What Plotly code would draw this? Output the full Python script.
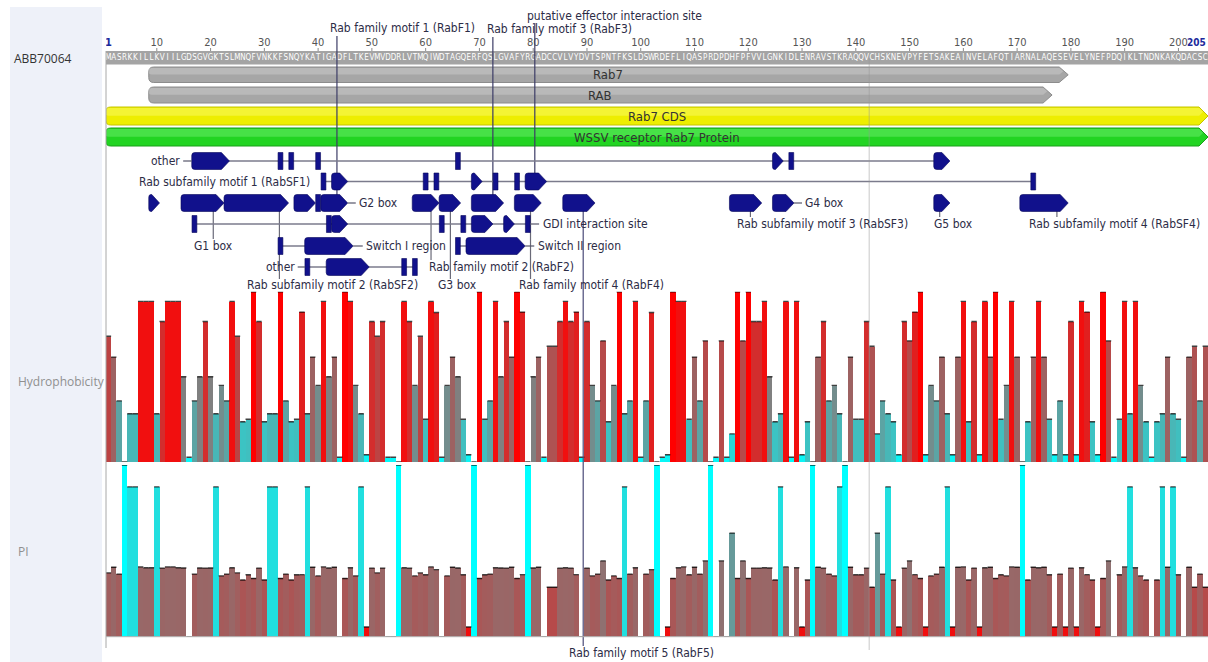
import plotly.graph_objects as go

# ---------------------------------------------------------------- data
ACCESSION = "ABB70064"
SEQUENCE = ("MASRKKILLKVIILGDSGVGKTSLMNQFVNKKFSNQYKATIGADFLTKEVMVDDRLVTMQ"
            "IWDTAGQERFQSLGVAFYRGADCCVLVYDVTSPNTFKSLDSWRDEFLIQASPRDPDHFPF"
            "VVLGNKIDLENRAVSTKRAQQVCHSKNEVPYFETSAKEAINVELAFQTIARNALAQESEV"
            "ELYNEFPDQIKLTNDNKAKQDACSC")
RESIDUES = list(range(1, len(SEQUENCE) + 1))

# per-residue hydrophobicity (0..1)
HYDROPHOBICITY = [
    0.738, 0.616, 0.359, 0.000, 0.283, 0.283, 0.943, 0.943, 0.943, 0.283,
    0.825, 0.943, 0.943, 0.943, 0.501, 0.028, 0.359, 0.501, 0.825, 0.501,
    0.283, 0.450, 0.359, 0.943, 0.738, 0.236, 0.251, 1.000, 0.825, 0.236,
    0.283, 0.283, 1.000, 0.359, 0.236, 0.251, 0.880, 0.283, 0.616, 0.450,
    0.943, 0.501, 0.616, 0.028, 1.000, 0.943, 0.450, 0.283, 0.043, 0.825,
    0.738, 0.825, 0.028, 0.028, 0.000, 0.943, 0.825, 0.450, 0.738, 0.251,
    0.943, 0.878, 0.028, 0.450, 0.616, 0.501, 0.251, 0.043, 0.000, 1.000,
    0.251, 0.359, 0.943, 0.501, 0.825, 0.616, 1.000, 0.880, 0.000, 0.501,
    0.616, 0.028, 0.680, 0.680, 0.825, 0.943, 0.825, 0.880, 0.028, 0.825,
    0.450, 0.359, 0.711, 0.236, 0.450, 1.000, 0.283, 0.359, 0.943, 0.028,
    0.359, 0.878, 0.000, 0.028, 0.043, 1.000, 0.943, 0.943, 0.251, 0.616,
    0.359, 0.711, 0.000, 0.028, 0.711, 0.028, 0.165, 1.000, 0.711, 1.000,
    0.825, 0.825, 0.943, 0.501, 0.236, 0.283, 0.943, 0.028, 0.943, 0.043,
    0.236, 0.000, 0.616, 0.825, 0.359, 0.450, 0.283, 0.000, 0.616, 0.251,
    0.251, 0.825, 0.680, 0.165, 0.359, 0.283, 0.236, 0.043, 0.825, 0.711,
    0.880, 1.000, 0.043, 0.450, 0.359, 0.616, 0.283, 0.043, 0.616, 0.943,
    0.236, 0.825, 0.043, 0.943, 0.616, 1.000, 0.251, 0.450, 0.943, 0.616,
    0.000, 0.236, 0.616, 0.943, 0.616, 0.251, 0.043, 0.359, 0.043, 0.825,
    0.043, 0.943, 0.880, 0.236, 0.043, 1.000, 0.711, 0.028, 0.251, 0.943,
    0.283, 0.943, 0.450, 0.236, 0.028, 0.236, 0.283, 0.616, 0.283, 0.251,
    0.028, 0.616, 0.680, 0.359, 0.680,
]

# per-residue isoelectric point
PI_VALUES = [
    5.74, 6.00, 5.68, 10.76, 9.74, 9.74, 6.02, 5.98, 5.98, 9.74,
    5.96, 6.02, 6.02, 5.98, 5.97, 2.77, 5.68, 5.97, 5.96, 5.97,
    9.74, 5.60, 5.68, 5.98, 5.74, 5.41, 5.65, 5.48, 5.96, 5.41,
    9.74, 9.74, 5.48, 5.68, 5.41, 5.65, 5.66, 9.74, 6.00, 5.60,
    6.02, 5.97, 6.00, 2.77, 5.48, 5.98, 5.60, 9.74, 3.22, 5.96,
    5.74, 5.96, 2.77, 2.77, 10.76, 5.98, 5.96, 5.60, 5.74, 5.65,
    6.02, 5.89, 2.77, 5.60, 6.00, 5.97, 5.65, 3.22, 10.76, 5.48,
    5.65, 5.68, 5.98, 5.97, 5.96, 6.00, 5.48, 5.66, 10.76, 5.97,
    6.00, 2.77, 5.07, 5.07, 5.96, 5.98, 5.96, 5.66, 2.77, 5.96,
    5.60, 5.68, 6.30, 5.41, 5.60, 5.48, 9.74, 5.68, 5.98, 2.77,
    5.68, 5.89, 10.76, 2.77, 3.22, 5.48, 5.98, 6.02, 5.65, 6.00,
    5.68, 6.30, 10.76, 2.77, 6.30, 2.77, 7.59, 5.48, 6.30, 5.48,
    5.96, 5.96, 5.98, 5.97, 5.41, 9.74, 6.02, 2.77, 5.98, 3.22,
    5.41, 10.76, 6.00, 5.96, 5.68, 5.60, 9.74, 10.76, 6.00, 5.65,
    5.65, 5.96, 5.07, 7.59, 5.68, 9.74, 5.41, 3.22, 5.96, 6.30,
    5.66, 5.48, 3.22, 5.60, 5.68, 6.00, 9.74, 3.22, 6.00, 6.02,
    5.41, 5.96, 3.22, 5.98, 6.00, 5.48, 5.65, 5.60, 6.02, 6.00,
    10.76, 5.41, 6.00, 5.98, 6.00, 5.65, 3.22, 5.68, 3.22, 5.96,
    3.22, 5.98, 5.66, 5.41, 3.22, 5.48, 6.30, 2.77, 5.65, 6.02,
    9.74, 5.98, 5.60, 5.41, 2.77, 5.41, 9.74, 6.00, 9.74, 5.65,
    2.77, 6.00, 5.07, 5.68, 5.07,
]

RULER_TICKS = [10, 20, 30, 40, 50, 60, 70, 80, 90, 100,
               110, 120, 130, 140, 150, 160, 170, 180, 190, 200]

# long annotations (start, end residue)
RAB7_DOMAIN = (9, 179)
RAB_DOMAIN = (9, 176)
CDS_SPAN = (1, 205)
PROTEIN_SPAN = (1, 205)

# feature intervals (start, end residue) per annotation track
OTHER_SITES_A = [(17, 23), (33, 33), (35, 35), (40, 40), (66, 66),
                 (125, 126), (128, 128), (155, 157)]
EFFECTOR_SITES = [(41, 41), (43, 45), (60, 60), (62, 62), (69, 70),
                  (73, 73), (77, 77), (79, 82), (173, 173)]
MOTIF_BOXES = [(9, 10), (15, 22), (23, 34), (36, 39), (40, 40), (41, 45),
               (58, 62), (63, 66), (69, 74), (77, 81), (86, 91),
               (117, 122), (125, 128), (155, 157), (171, 179)]
GDI_SITES = [(17, 17), (42, 42), (43, 45), (63, 63), (67, 67),
             (69, 72), (75, 76), (79, 79)]
SWITCH_I = [(33, 33), (38, 46)]
SWITCH_II = [(66, 66), (68, 78)]
OTHER_SITES_F = [(38, 38), (42, 49), (56, 56), (58, 58)]

# ---------------------------------------------------------------- layout constants
W, H = 1208, 662
PLOT_LEFT = 106
X_MIN, X_MAX = 0.55, 205.5
UPP = (X_MAX - X_MIN) / (W - PLOT_LEFT)   # residues per pixel

FONT = "Liberation Sans Narrow, DejaVu Sans Condensed, Arial Narrow, sans-serif"
LABEL_SIZE = 12
LABEL_COLOR = "#2c2c46"
GLYPH_FILL = "#11118c"
GLYPH_EDGE = "#06065a"
ROW_LINE = "#7b7b8c"

HYD_TOP, HYD_BOTTOM = 291.7, 462.0
PI_TOP, PI_BOTTOM = 465.0, 636.7

ROW_Y = {"A": 161, "B": 181.5, "C": 203, "D": 224, "E": 246, "F": 267}
GLYPH_H = 17

fig = go.Figure()

# ---------------------------------------------------------------- graphs
HYDRO_SCALE = [[0, "#00ffff"], [0.5, "#808080"], [1, "#ff0000"]]
PI_SCALE = [[0, "#ff0000"], [0.5, "#808080"], [1, "#00ffff"]]
pi_lo, pi_hi = min(PI_VALUES), max(PI_VALUES)

fig.add_trace(go.Bar(
    x=RESIDUES, y=HYDROPHOBICITY, width=1, xaxis="x", yaxis="y2",
    marker=dict(color=HYDROPHOBICITY, colorscale=HYDRO_SCALE, cmin=0, cmax=1,
                line=dict(width=0)),
    hoverinfo="skip"))
fig.add_trace(go.Bar(
    x=RESIDUES, y=PI_VALUES, width=1, xaxis="x", yaxis="y3",
    marker=dict(color=PI_VALUES, colorscale=PI_SCALE, cmin=pi_lo, cmax=pi_hi,
                line=dict(width=0)),
    hoverinfo="skip"))


def caps(values):
    xs, ys = [], []
    for n, v in zip(RESIDUES, values):
        xs += [n - 0.5, n + 0.5, None]
        ys += [v, v, None]
    return xs, ys


for vals, ax in ((HYDROPHOBICITY, "y2"), (PI_VALUES, "y3")):
    cx, cy = caps(vals)
    fig.add_trace(go.Scatter(x=cx, y=cy, mode="lines", xaxis="x", yaxis=ax,
                             line=dict(color="rgba(0,0,0,0.75)", width=1.4),
                             hoverinfo="skip"))

# ---------------------------------------------------------------- ruler + sequence
fig.add_trace(go.Scatter(
    x=RULER_TICKS, y=[43] * len(RULER_TICKS), mode="text",
    text=[str(t) for t in RULER_TICKS], textposition="middle center",
    textfont=dict(family=FONT, size=11, color="#555555"),
    xaxis="x", yaxis="y", hoverinfo="skip", cliponaxis=True))
fig.add_trace(go.Scatter(
    x=[1], y=[43], mode="text", text=["<b>1</b>"], textposition="middle center",
    textfont=dict(family=FONT, size=11, color="#1c2a9c"),
    xaxis="x", yaxis="y", hoverinfo="skip", cliponaxis=True))
fig.add_trace(go.Scatter(
    x=RESIDUES, y=[58] * len(SEQUENCE), mode="text", text=list(SEQUENCE),
    textposition="middle center",
    textfont=dict(family=FONT, size=8, color="white"),
    xaxis="x", yaxis="y", hoverinfo="skip", cliponaxis=False))

shapes = []
annotations = []

# sequence length marker at the right end of the ruler
annotations.append(dict(x=1, y=1 - 43 / H, xref="paper", yref="paper",
                        text="<b>%d</b>" % len(SEQUENCE), showarrow=False,
                        xanchor="right", yanchor="middle",
                        font=dict(family=FONT, size=10, color="#1c2a9c")))

# left header panel
shapes.append(dict(type="rect", xref="paper", yref="paper", x0=10 / W, x1=102 / W,
                   y0=0, y1=1 - 7 / H, fillcolor="#eef1f9", line=dict(width=0),
                   layer="below"))
# sequence band
shapes.append(dict(type="rect", xref="x", yref="y", x0=X_MIN, x1=X_MAX, y0=51, y1=64.5,
                   fillcolor="#a4a4a4", line=dict(width=0), layer="below"))
for t in RULER_TICKS:
    shapes.append(dict(type="line", xref="x", yref="y", x0=t, x1=t, y0=48, y1=51,
                       line=dict(color="#8a8a8a", width=1), layer="below"))


def arrow_path(s, e, yc, h, tip_px=8, r_px=3):
    x0, x1 = s - 0.5, e + 0.5
    w = x1 - x0
    tip = min(tip_px * UPP, 0.72 * w)
    r = min(r_px * UPP, 0.2 * w)
    ry = min(r_px, h / 3)
    top, bot = yc - h / 2, yc + h / 2
    return (f"M{x0 + r},{top} L{x1 - tip},{top} L{x1},{yc} L{x1 - tip},{bot} "
            f"L{x0 + r},{bot} Q{x0},{bot} {x0},{bot - ry} L{x0},{top + ry} "
            f"Q{x0},{top} {x0 + r},{top} Z")


def bar_path(n, yc, h):
    x0, x1 = n - 0.45, n + 0.45
    top, bot = yc - h / 2, yc + h / 2
    return f"M{x0},{top} L{x1},{top} L{x1},{bot} L{x0},{bot} Z"


def add_band(span, y0, y1, fill, edge, shine, text, text_color="#333333"):
    s, e = span
    yc = (y0 + y1) / 2
    shapes.append(dict(type="path", xref="x", yref="y",
                       path=arrow_path(s, e, yc, y1 - y0, tip_px=9, r_px=5),
                       fillcolor=fill, line=dict(color=edge, width=1), layer="above"))
    # lighter upper half for a rounded look
    shapes.append(dict(type="path", xref="x", yref="y",
                       path=arrow_path(s, e - 0.9, y0 + (y1 - y0) * 0.27,
                                       (y1 - y0) * 0.42, tip_px=4, r_px=3),
                       fillcolor=shine, line=dict(width=0), layer="above"))
    annotations.append(dict(x=(s + e) / 2, y=yc, xref="x", yref="y", text=text,
                            showarrow=False, font=dict(family=FONT, size=13, color=text_color)))


add_band(RAB7_DOMAIN, 67, 82.5, "#a6a6a6", "#8c8c8c", "rgba(255,255,255,0.22)", "Rab7")
add_band(RAB_DOMAIN, 87, 103, "#a6a6a6", "#8c8c8c", "rgba(255,255,255,0.22)", "RAB")
add_band(CDS_SPAN, 107, 125, "#eeee00", "#c4c400", "rgba(255,255,150,0.35)", "Rab7 CDS")
add_band(PROTEIN_SPAN, 128, 146, "#22d422", "#18a018", "rgba(160,255,160,0.30)",
         "WSSV receptor Rab7 Protein")


def add_track(parts, row, joined):
    yc = ROW_Y[row]
    if joined:
        shapes.append(dict(type="line", xref="x", yref="y",
                           x0=parts[0][0], x1=parts[-1][1], y0=yc, y1=yc,
                           line=dict(color=ROW_LINE, width=1.5), layer="above"))
    for s, e in parts:
        path = bar_path(s, yc, GLYPH_H) if s == e else arrow_path(s, e, yc, GLYPH_H)
        shapes.append(dict(type="path", xref="x", yref="y", path=path,
                           fillcolor=GLYPH_FILL, line=dict(color=GLYPH_EDGE, width=0.6),
                           layer="above"))


# label connectors drawn first so glyphs sit on top
CONNECTORS = [  # (residue, y from, y to, colour)
    (43.5, 36, 203, "#3c3c66"), (72.5, 37, 203, "#3c3c66"), (80.3, 23, 182, "#3c3c66"),
    (20.5, 211, 239, "#6a6a78"), (32.8, 211, 279, "#6a6a78"), (61.0, 211, 260, "#6a6a78"),
    (64.6, 211, 279, "#6a6a78"), (79.5, 211, 279, "#6a6a78"), (89.3, 211, 646, "#4a4a78"),
    (120.4, 211, 217, "#6a6a78"), (155.6, 211, 217, "#6a6a78"), (177.4, 211, 217, "#6a6a78"),
]
for xr, ya, yb, col in CONNECTORS:
    shapes.append(dict(type="line", xref="x", yref="y", x0=xr, x1=xr, y0=ya, y1=yb,
                       line=dict(color=col, width=1.2), layer="above"))

add_track(OTHER_SITES_A, "A", True)
add_track(EFFECTOR_SITES, "B", True)
add_track(MOTIF_BOXES, "C", False)
add_track(GDI_SITES, "D", True)
add_track(SWITCH_I, "E", True)
add_track(SWITCH_II, "E", True)
add_track(OTHER_SITES_F, "F", True)

# feature labels: (text, residue anchor, y, anchor)
LABELS = [
    ("putative effector interaction site", 95.2, 16, "center"),
    ("Rab family motif 1 (RabF1)", 41.8, 28, "left"),
    ("Rab family motif 3 (RabF3)", 71.0, 29, "left"),
    ("other", 14.6, 161, "right"),
    ("Rab subfamily motif 1 (RabSF1)", 38.9, 181.5, "right"),
    ("G2 box", 47.3, 203, "left"),
    ("G4 box", 130.2, 203, "left"),
    ("GDI interaction site", 81.4, 224, "left"),
    ("Rab subfamily motif 3 (RabSF3)", 133.8, 224, "center"),
    ("G5 box", 158.1, 224, "center"),
    ("Rab subfamily motif 4 (RabSF4)", 188.1, 224, "center"),
    ("G1 box", 20.6, 246, "center"),
    ("Switch I region", 48.6, 246, "left"),
    ("Switch II region", 80.5, 246, "left"),
    ("other", 36.0, 267, "right"),
    ("Rab family motif 2 (RabF2)", 60.3, 267, "left"),
    ("Rab subfamily motif 2 (RabSF2)", 42.7, 285, "center"),
    ("G3 box", 65.9, 285, "center"),
    ("Rab family motif 4 (RabF4)", 90.8, 285, "center"),
    ("Rab family motif 5 (RabF5)", 100.2, 653, "center"),
]
for text, xr, yv, anchor in LABELS:
    annotations.append(dict(x=xr, y=yv, xref="x", yref="y", text=text, showarrow=False,
                            xanchor=anchor, yanchor="middle",
                            font=dict(family=FONT, size=LABEL_SIZE, color=LABEL_COLOR)))

# short dashes between tracks and their side labels
DASHES = [  # (from residue, to residue, row)
    (14.9, 16.5, "A"), (45.5, 47.0, "C"), (128.5, 130.0, "C"), (79.4, 81.1, "D"),
    (46.5, 48.3, "E"), (78.5, 80.2, "E"), (36.2, 37.6, "F"),
]
for xa, xb, row in DASHES:
    shapes.append(dict(type="line", xref="x", yref="y", x0=xa, x1=xb,
                       y0=ROW_Y[row], y1=ROW_Y[row],
                       line=dict(color="#55556a", width=1.2), layer="above"))

# frame lines
shapes.append(dict(type="line", xref="paper", yref="y", x0=PLOT_LEFT / W, x1=PLOT_LEFT / W,
                   y0=51, y1=648, line=dict(color="#a8a8a8", width=1), layer="above"))
shapes.append(dict(type="line", xref="paper", yref="y", x0=PLOT_LEFT / W, x1=1,
                   y0=PI_BOTTOM, y1=PI_BOTTOM, line=dict(color="#b4b4b4", width=1),
                   layer="above"))
shapes.append(dict(type="line", xref="x", yref="y", x0=142.5, x1=142.5, y0=58, y1=650,
                   line=dict(color="rgba(150,150,150,0.35)", width=1.5), layer="above"))

# left-hand track names
annotations += [
    dict(x=12 / W, y=1 - 59 / H, xref="paper", yref="paper", text=ACCESSION,
         showarrow=False, xanchor="left", yanchor="middle",
         font=dict(family="Open Sans, sans-serif", size=12, color="#333333")),
    dict(x=16 / W, y=1 - 381 / H, xref="paper", yref="paper", text="Hydrophobicity",
         showarrow=False, xanchor="left", yanchor="middle",
         font=dict(family="Open Sans, sans-serif", size=12, color="#909090")),
    dict(x=16 / W, y=1 - 551 / H, xref="paper", yref="paper", text="PI",
         showarrow=False, xanchor="left", yanchor="middle",
         font=dict(family="Open Sans, sans-serif", size=12, color="#909090")),
]

fig.update_layout(
    width=W, height=H, margin=dict(l=0, r=0, t=0, b=0),
    paper_bgcolor="white", plot_bgcolor="rgba(0,0,0,0)",
    showlegend=False, barmode="overlay", bargap=0,
    xaxis=dict(domain=[PLOT_LEFT / W, 1], range=[X_MIN, X_MAX], visible=False,
               fixedrange=True),
    yaxis=dict(domain=[0, 1], range=[H, 0], visible=False, fixedrange=True),
    yaxis2=dict(domain=[1 - HYD_BOTTOM / H, 1 - HYD_TOP / H], range=[0, 1],
                visible=False, anchor="x", fixedrange=True),
    yaxis3=dict(domain=[1 - PI_BOTTOM / H, 1 - PI_TOP / H], range=[pi_lo, pi_hi],
                visible=False, anchor="x", fixedrange=True),
    shapes=shapes, annotations=annotations,
)

fig.write_html("out.html")
